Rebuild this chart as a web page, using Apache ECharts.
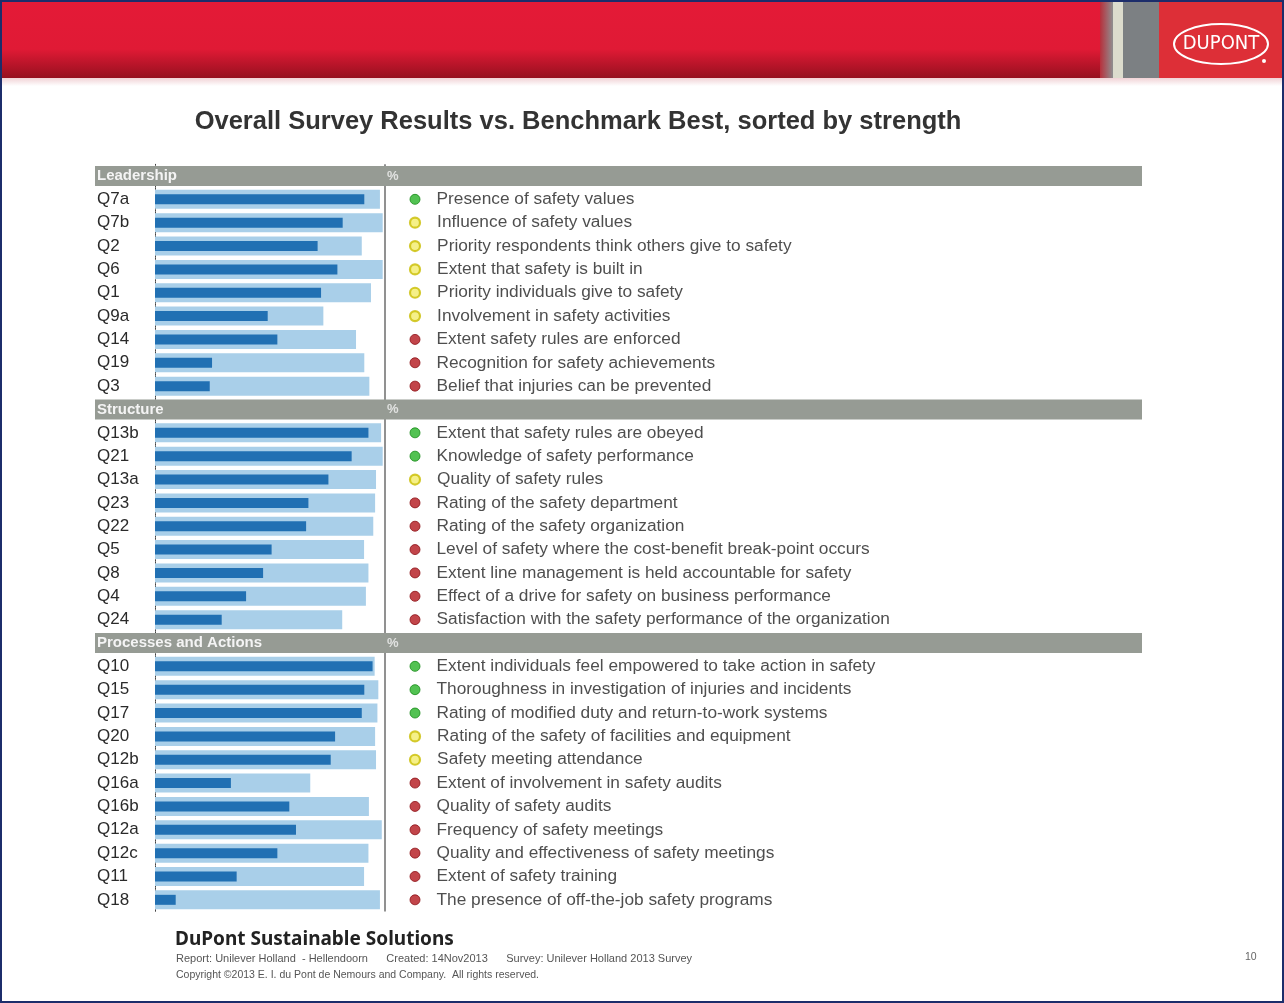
<!DOCTYPE html>
<html><head><meta charset="utf-8">
<script src="https://cdn.jsdelivr.net/npm/echarts@6/dist/echarts.min.js"></script>
<style>html,body{margin:0;padding:0;background:#fff;}#c{width:1284px;height:1003px;}</style>
</head><body><div id="c"></div>
<script>
// ---------- data ----------
const sectionNames = ['Leadership', 'Structure', 'Processes and Actions'];

const leadershipQ = ['Q7a','Q7b','Q2','Q6','Q1','Q9a','Q14','Q19','Q3'];
const leadershipScore = [91, 81.6, 70.7, 79.3, 72.2, 49, 53.2, 24.8, 23.8];
const leadershipBest  = [97.8, 99, 89.9, 99, 93.9, 73.2, 87.4, 91, 93.2];
const leadershipStatus = ['green','yellow','yellow','yellow','yellow','yellow','red','red','red'];
const leadershipText = [
  'Presence of safety values','Influence of safety values','Priority respondents think others give to safety',
  'Extent that safety is built in','Priority individuals give to safety','Involvement in safety activities',
  'Extent safety rules are enforced','Recognition for safety achievements','Belief that injuries can be prevented'];

const structureQ = ['Q13b','Q21','Q13a','Q23','Q22','Q5','Q8','Q4','Q24'];
const structureScore = [92.8, 85.5, 75.4, 66.7, 65.7, 50.7, 47, 39.6, 29];
const structureBest  = [98.3, 99, 96.1, 95.7, 94.9, 90.9, 92.8, 91.7, 81.4];
const structureStatus = ['green','green','yellow','red','red','red','red','red','red'];
const structureText = [
  'Extent that safety rules are obeyed','Knowledge of safety performance','Quality of safety rules',
  'Rating of the safety department','Rating of the safety organization',
  'Level of safety where the cost-benefit break-point occurs','Extent line management is held accountable for safety',
  'Effect of a drive for safety on business performance','Satisfaction with the safety performance of the organization'];

const processesQ = ['Q10','Q15','Q17','Q20','Q12b','Q16a','Q16b','Q12a','Q12c','Q11','Q18'];
const processesScore = [94.6, 91, 89.9, 78.3, 76.4, 33, 58.4, 61.3, 53.2, 35.5, 9];
const processesBest  = [95.5, 97.1, 96.7, 95.7, 96.1, 67.5, 93, 98.6, 92.8, 90.9, 97.8];
const processesStatus = ['green','green','green','yellow','yellow','red','red','red','red','red','red'];
const processesText = [
  'Extent individuals feel empowered to take action in safety','Thoroughness in investigation of injuries and incidents',
  'Rating of modified duty and return-to-work systems','Rating of the safety of facilities and equipment',
  'Safety meeting attendance','Extent of involvement in safety audits','Quality of safety audits',
  'Frequency of safety meetings','Quality and effectiveness of safety meetings','Extent of safety training',
  'The presence of off-the-job safety programs'];

// ---------- build rows ----------
const sections = [
  [leadershipQ, leadershipScore, leadershipBest, leadershipStatus, leadershipText],
  [structureQ, structureScore, structureBest, structureStatus, structureText],
  [processesQ, processesScore, processesBest, processesStatus, processesText]
];
const WIDE_MAX = 1047;           // wide grid x-axis span
const DOT_X = 320, PCT_X = 292;  // positions on wide grid axis
const rowKeys = [], rowLabels = [], scoreData = [], bestData = [], headerData = [], pctData = [], dotData = [];
const dotStyles = {
  green:  {color:'#27b327', borderColor:'#178a17', borderWidth:1},
  yellow: {color:'#f2ec6a', borderColor:'#c9bd00', borderWidth:2.2},
  red:    {color:'#b3161d', borderColor:'#8c1015', borderWidth:1}
};
sections.forEach((s, si) => {
  const key = 'H' + si;
  rowKeys.push(key); rowLabels.push('');
  scoreData.push('-'); bestData.push('-');
  headerData.push({value:[WIDE_MAX, key], name: sectionNames[si]});
  pctData.push([PCT_X, key]);
  s[0].forEach((q, i) => {
    const k = 'R' + si + '_' + i;
    rowKeys.push(k); rowLabels.push(q);
    scoreData.push(s[1][i]); bestData.push(s[2][i]);
    dotData.push({value:[DOT_X, k], name: s[4][i], itemStyle: dotStyles[s[3][i]]});
  });
});
const labelMap = {}; rowKeys.forEach((k, i) => labelMap[k] = rowLabels[i]);

const FONT = '"Liberation Sans", Arial, sans-serif';
const TOP = 164.3, H = 747.2;

const chart = echarts.init(document.getElementById('c'), null, {renderer:'canvas'});
chart.setOption({
  animation: false,
  backgroundColor: '#ffffff',
  title: {
    text: 'Overall Survey Results vs. Benchmark Best, sorted by strength',
    left: 573, top: 104, textAlign: 'center',
    textStyle: {fontFamily: FONT, fontSize: 25.5, fontWeight: 'bold', color: '#333'}
  },
  grid: [
    {left: 155, width: 230, top: TOP, height: H},
    {left: 95, width: WIDE_MAX, top: TOP, height: H}
  ],
  xAxis: [
    {gridIndex: 0, type: 'value', min: 0, max: 100, show: false},
    {gridIndex: 1, type: 'value', min: 0, max: WIDE_MAX, show: false}
  ],
  yAxis: [
    {gridIndex: 0, type: 'category', data: rowKeys, inverse: true,
     axisTick: {show: false},
     axisLine: {show: true, lineStyle: {color: '#444', type: 'dotted', width: 1}},
     axisLabel: {formatter: v => labelMap[v], align: 'left', margin: 58,
       fontFamily: FONT, fontSize: 17, color: '#2a2a2a'},
     splitLine: {show: false}},
    {gridIndex: 1, type: 'category', data: rowKeys, inverse: true, show: false},
    {gridIndex: 0, type: 'category', data: rowKeys, inverse: true, show: false}
  ],
  series: [
    {type: 'bar', xAxisIndex: 0, yAxisIndex: 0, data: bestData, barWidth: 19,
     itemStyle: {color: '#a9cfe9'}, z: 2,
     markLine: {silent: true, symbol: 'none', label: {show: false},
       lineStyle: {color: '#6d6d6d', type: 'solid', width: 1.5},
       data: [{xAxis: 100}]}},
    {type: 'bar', xAxisIndex: 0, yAxisIndex: 2, data: scoreData, barWidth: 10,
     itemStyle: {color: '#2170b3'}, z: 3},
    {type: 'bar', xAxisIndex: 1, yAxisIndex: 1, data: headerData, barWidth: 20, z: 5,
     itemStyle: {color: '#969b94'},
     label: {show: true, position: 'insideLeft', distance: 2, formatter: p => p.name,
       fontFamily: FONT, fontSize: 15, fontWeight: 'bold', color: '#f4f4f4'}},
    {type: 'scatter', xAxisIndex: 1, yAxisIndex: 1, data: pctData, symbolSize: 0, z: 6,
     label: {show: true, position: 'right', distance: 0, formatter: '%',
       fontFamily: FONT, fontSize: 13, fontWeight: 'bold', color: '#f4f4f4'}},
    {type: 'scatter', xAxisIndex: 1, yAxisIndex: 1, data: dotData, symbol: 'circle', symbolSize: 10, z: 6,
     label: {show: true, position: 'right', distance: 16, formatter: p => p.name,
       fontFamily: FONT, fontSize: 17.3, color: '#222'}}
  ],
  graphic: [
    // header band
    {type: 'rect', z: 1, shape: {x: 2, y: 2, width: 1280, height: 76},
     style: {fill: new echarts.graphic.LinearGradient(0, 0, 0, 1, [
       {offset: 0, color: '#e41a37'}, {offset: 0.62, color: '#e01a35'}, {offset: 1, color: '#96101f'}])}},
    {type: 'rect', z: 1, shape: {x: 2, y: 78, width: 1280, height: 8},
     style: {fill: new echarts.graphic.LinearGradient(0, 0, 0, 1, [
       {offset: 0, color: '#f1d3d6'}, {offset: 1, color: '#ffffff'}])}},
    {type: 'rect', z: 2, shape: {x: 1100, y: 2, width: 13, height: 76},
     style: {fill: new echarts.graphic.LinearGradient(0, 0, 1, 0, [
       {offset: 0, color: '#b8303c'}, {offset: 1, color: '#8e8f90'}])}},
    {type: 'rect', z: 2, shape: {x: 1113, y: 2, width: 10, height: 76}, style: {fill: '#dcdccd'}},
    {type: 'rect', z: 2, shape: {x: 1123, y: 2, width: 36, height: 76}, style: {fill: '#7c8083'}},
    {type: 'rect', z: 2, shape: {x: 1159, y: 2, width: 123, height: 76}, style: {fill: '#dd2f37'}},
    {type: 'ellipse', z: 3, shape: {cx: 1221, cy: 44, rx: 47, ry: 20},
     style: {fill: 'none', stroke: '#ffffff', lineWidth: 2}},
    {type: 'text', z: 3, x: 1221, y: 44,
     style: {text: 'DUPONT', fill: '#fff', font: '20px "DejaVu Sans Condensed", "Liberation Sans Narrow", sans-serif',
       textAlign: 'center', textVerticalAlign: 'middle'}},
    {type: 'circle', z: 3, shape: {cx: 1264, cy: 61, r: 2}, style: {fill: '#fff'}},
    // footer
    {type: 'text', z: 3, x: 175, y: 930,
     style: {text: 'DuPont Sustainable Solutions', fill: '#222', font: 'bold 19px "Noto Sans", sans-serif'}},
    {type: 'text', z: 3, x: 176, y: 953,
     style: {text: 'Report: Unilever Holland  - Hellendoorn      Created: 14Nov2013      Survey: Unilever Holland 2013 Survey',
       fill: '#555', font: '11px ' + FONT}},
    {type: 'text', z: 3, x: 176, y: 970,
     style: {text: 'Copyright \u00A92013 E. I. du Pont de Nemours and Company.  All rights reserved.',
       fill: '#555', font: '10.5px ' + FONT}},
    {type: 'text', z: 3, x: 1245, y: 952,
     style: {text: '10', fill: '#666', font: '10.5px ' + FONT}},
    // frame
    {type: 'rect', z: 10, shape: {x: 1, y: 1, width: 1282, height: 1001},
     style: {fill: 'none', stroke: '#1c2d6b', lineWidth: 2}}
  ]
});
</script></body></html>
